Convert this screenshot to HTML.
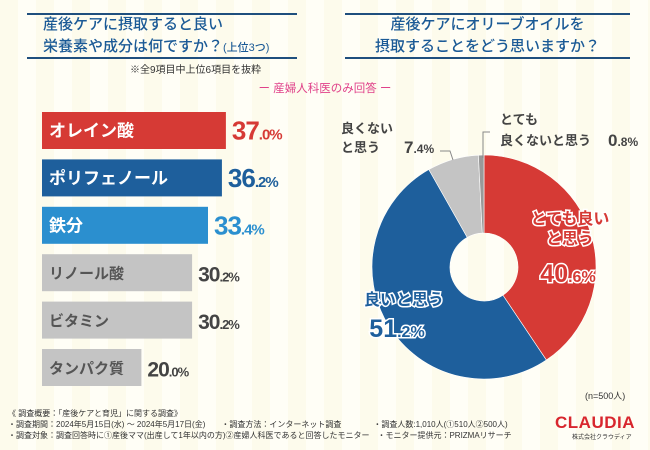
<!DOCTYPE html>
<html><head><meta charset="utf-8">
<style>
body{margin:0;width:650px;height:450px;overflow:hidden;font-family:"Liberation Sans","Noto Sans CJK JP",sans-serif;}
#root{position:relative;width:650px;height:450px;background:repeating-linear-gradient(90deg,#fdfbec 0 18px,#fffef6 18px 36px);}
.t{position:absolute;color:#1b5a96;font-size:15px;line-height:22px;font-weight:500;}
.hl{position:absolute;height:1.5px;background:#1f4f7e;}
.note{position:absolute;font-size:9.5px;color:#333;line-height:12px;}
</style></head><body>
<div id="root">
<div class="hl" style="left:27px;top:13px;width:270px"></div>
<div class="t" style="left:43px;top:14px;width:260px">産後ケアに摂取すると良い<br>栄養素や成分は何ですか？<span style="font-size:11px">(上位3つ)</span></div>
<div class="hl" style="left:27px;top:57px;width:270px"></div>
<div class="hl" style="left:345px;top:13px;width:285px"></div>
<div class="t" style="left:345px;top:14px;width:285px;text-align:center">産後ケアにオリーブオイルを<br>摂取することをどう思いますか？</div>
<div class="hl" style="left:345px;top:57px;width:285px"></div>
<div class="note" style="left:130px;top:65px;font-size:10px">※全9項目中上位6項目を抜粋</div>
<div style="position:absolute;left:0;width:650px;top:80px;text-align:center;color:#e0428a;font-size:11.5px">ー 産婦人科医のみ回答 ー</div>
<svg id="chart" width="650" height="450" style="position:absolute;left:0;top:0"></svg>
<div class="note" style="left:585px;top:390px;font-size:9px">(n=500人)</div>
<div class="note" style="left:8px;top:408px;font-size:8px;line-height:11px;color:#333">《 調査概要：「産後ケアと育児」に関する調査》<br>・調査期間：2024年5月15日(水) ～ 2024年5月17日(金)　　・調査方法：インターネット調査　　　　・調査人数:1,010人(①510人②500人)<br>・調査対象：調査回答時に①産後ママ(出産して1年以内の方)②産婦人科医であると回答したモニター　・モニター提供元：PRIZMAリサーチ</div>
<div style="position:absolute;left:555px;top:413px;color:#d8262d;font-weight:bold;font-size:17px;letter-spacing:0.5px">CLAUDIA</div>
<div style="position:absolute;left:572px;top:432px;color:#333;font-size:6px">株式会社クラウディア</div>
</div>
<script>
const barLabels=["オレイン酸","ポリフェノール","鉄分","リノール酸","ビタミン","タンパク質"];
const barValues=[37.0,36.2,33.4,30.2,30.2,20.0];
const barColors=["#d63a35","#1e5f9c","#2b8fcf","#c4c4c4","#c4c4c4","#c4c4c4"];
const pieLabels=["とても良いと思う","良いと思う","良くないと思う","とても良くないと思う"];
const pieValues=[40.6,51.2,7.4,0.8];
const pieColors=["#d63a35","#1e5f9c","#c4c4c4","#999999"];
const NS="http://www.w3.org/2000/svg";
const svg=document.getElementById('chart');
function mk(t,a,p){const e=document.createElementNS(NS,t);for(const k in a)e.setAttribute(k,a[k]);(p||svg).appendChild(e);return e;}
const x0=42,pxPer=4.97,y0=112,pitch=47.4,bh=37;
const xs=v=>v*pxPer;
barValues.forEach((v,i)=>{
 const y=y0+i*pitch;
 const r=mk('rect',{x:x0,y:y,width:xs(v),height:bh,fill:barColors[i]});
 
 
 const colored=i<3;
 const lt=mk('text',{x:x0+7,y:y+bh/2+6,'font-size':colored?17:15,'font-weight':'bold',fill:colored?'#fff':'#555'});
 lt.textContent=barLabels[i];
 
 
 const vc=i==0?'#d63a35':i==1?'#1e5f9c':i==2?'#2b8fcf':'#444';
 const s=v.toFixed(1).split('.');
 const vt=mk('text',{x:x0+xs(v)+6,y:y+bh/2+9,fill:vc,'font-size':colored?26:21,'font-weight':'bold','letter-spacing':'-1'});
 vt.innerHTML=s[0]+'<tspan font-size="'+(colored?15:13)+'">.'+s[1]+'%</tspan>';
 
 
});
const cx=484,cy=267,R=112,r0=34;
const total=pieValues.reduce((a,b)=>a+b,0);
let a=0;
pieValues.forEach((v,i)=>{
 const a1=a+v/total*2*Math.PI;
 const P=(ang,rr)=>[cx+rr*Math.sin(ang),cy-rr*Math.cos(ang)];
 const [x1,y1]=P(a,R),[x2,y2]=P(a1,R),[x3,y3]=P(a1,r0),[x4,y4]=P(a,r0);
 const lg=(a1-a)>Math.PI?1:0;
 const p=mk('path',{d:`M${x1},${y1}A${R},${R} 0 ${lg} 1 ${x2},${y2}L${x3},${y3}A${r0},${r0} 0 ${lg} 0 ${x4},${y4}Z`,fill:pieColors[i],stroke:'#fff','stroke-width':0.6});
 
 
 a=a1;
});
function txt(x,y,s,size,fill,name,extra){const t=mk('text',Object.assign({x:x,y:y,'font-size':size,fill:fill,'font-weight':'bold'},extra||{}));t.innerHTML=s;return t;}
const outl={stroke:'#fff','stroke-width':3,'paint-order':'stroke','text-anchor':'middle'};
txt(570,224,'とても良い',16,'#d63a35','pie-label-1',outl);
txt(570,244,'と思う',16,'#d63a35','pie-label-1b',outl);
txt(568,282,pieValues[0].toFixed(1).replace(/\.(\d)/,'<tspan font-size="16">.$1%</tspan>'),25,'#d63a35','pie-value-1',outl);
txt(404,305,'良いと思う',16,'#1e5f9c','pie-label-2',outl);
txt(397,337,pieValues[1].toFixed(1).replace(/\.(\d)/,'<tspan font-size="16">.$1%</tspan>'),25,'#1e5f9c','pie-value-2',outl);
txt(341,133,'良くない',13,'#444','pie-label-3',{});
txt(341,152,'と思う',13,'#444','pie-label-3b',{});
txt(404,153,pieValues[2].toFixed(1).replace(/\.(\d)/,'<tspan font-size="12">.$1%</tspan>'),17,'#444','pie-value-3',{});
txt(500,124,'とても',13,'#444','pie-label-4',{});
txt(500,145,'良くないと思う',13,'#444','pie-label-4b',{});
txt(608,146,pieValues[3].toFixed(1).replace(/\.(\d)/,'<tspan font-size="12">.$1%</tspan>'),17,'#444','pie-value-4',{});
mk('polyline',{points:'483,158 483,132 490,132',fill:'none',stroke:'#888','stroke-width':1});
mk('polyline',{points:'440,151 450,151 453,160',fill:'none',stroke:'#888','stroke-width':1});
</script>
</body></html>
